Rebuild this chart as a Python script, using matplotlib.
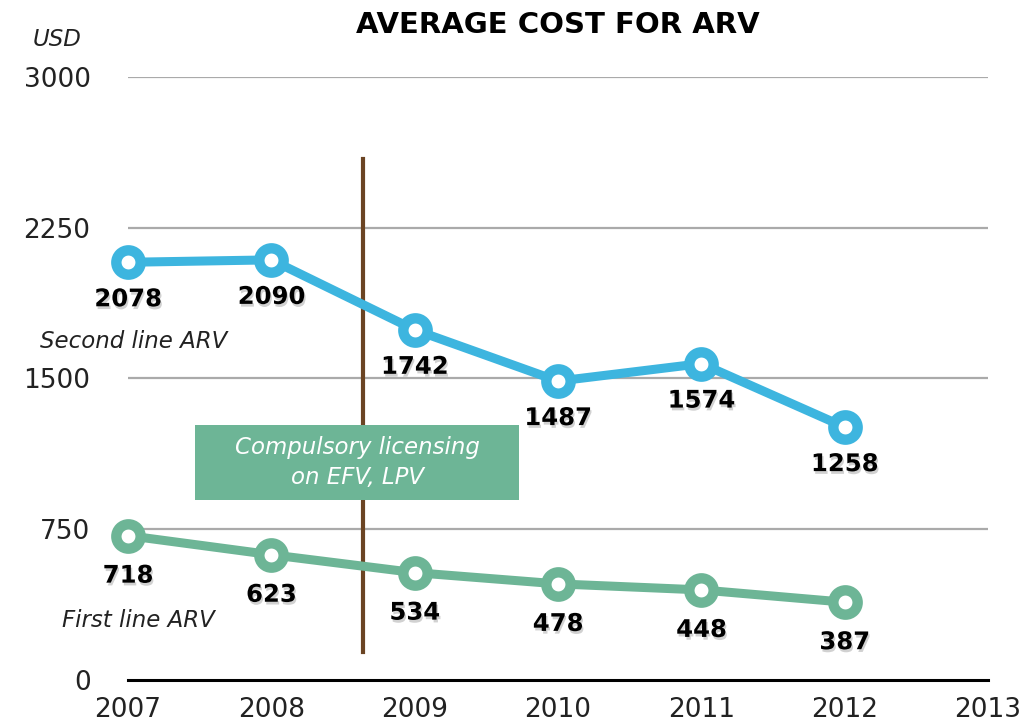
import matplotlib
matplotlib.use("Agg")
import matplotlib.pyplot as plt
import matplotlib.patheffects as pe
from matplotlib.patches import Rectangle

plt.rcParams['font.family'] = ['DejaVu Sans']

# data
years = [2007, 2008, 2009, 2010, 2011, 2012]
second_line = [2078, 2090, 1742, 1487, 1574, 1258]
first_line = [718, 623, 534, 478, 448, 387]
yticks = [0, 750, 1500, 2250, 3000]
xticks = [2007, 2008, 2009, 2010, 2011, 2012, 2013]

blue = '#3db5df'
green = '#6db596'
brown = '#6b4423'

fig = plt.figure(figsize=(10.21, 7.26), dpi=100)
ax = fig.add_axes([0.1254, 0.0634, 0.8423, 0.8306])
ax.set_xlim(2007, 2013)
ax.set_ylim(0, 3000)

for y in yticks[1:]:
    ax.axhline(y, color='#aaaaaa', lw=1.6, zorder=1)
ax.axhline(0, color='black', lw=2.2, zorder=1, clip_on=False)

# compulsory licensing marker
ax.plot([2008.64, 2008.64], [140, 2590], color=brown, lw=3, zorder=2)
ax.add_patch(Rectangle((2007.47, 896), 2.26, 373, facecolor=green, edgecolor='none', zorder=3))
ax.text(2008.6, 1082, 'Compulsory licensing\non EFV, LPV', color='white', fontsize=16.5,
        style='italic', ha='center', va='center', linespacing=1.35, zorder=4)

shadow = [pe.SimplePatchShadow(offset=(1, -2), shadow_rgbFace='#999999', alpha=0.45), pe.Normal()]

for vals, col, off in [(second_line, blue, 37), (first_line, green, 40)]:
    ax.plot(years, vals, color=col, lw=6.5, marker='o', ms=17.5, mew=7.5,
            mfc='white', mec=col, zorder=5, clip_on=False)
    for x, v in zip(years, vals):
        ax.annotate(str(v), (x, v), xytext=(0, -off), textcoords='offset pixels',
                    ha='center', va='center', fontsize=17.5, fontweight='bold',
                    color='black', zorder=6, path_effects=shadow)

ax.text(-0.102, 0.562, 'Second line ARV', transform=ax.transAxes, fontsize=16.5,
        style='italic', color='#222222', ha='left', va='center')
ax.text(-0.077, 0.098, 'First line ARV', transform=ax.transAxes, fontsize=16.5,
        style='italic', color='#222222', ha='left', va='center')
ax.text(-0.082, 1.062, 'USD', transform=ax.transAxes, fontsize=16.5,
        style='italic', color='#222222', ha='center', va='center')

ax.set_yticks(yticks)
ax.set_xticks(xticks)
ax.tick_params(length=0, labelsize=19, colors='#222222', pad=27)
ax.tick_params(axis='x', pad=12)
for s in ax.spines.values():
    s.set_visible(False)

fig.suptitle('AVERAGE COST FOR ARV', x=0.546, y=0.985, fontsize=21, fontweight='bold')

fig.savefig('out.png', dpi=100)
